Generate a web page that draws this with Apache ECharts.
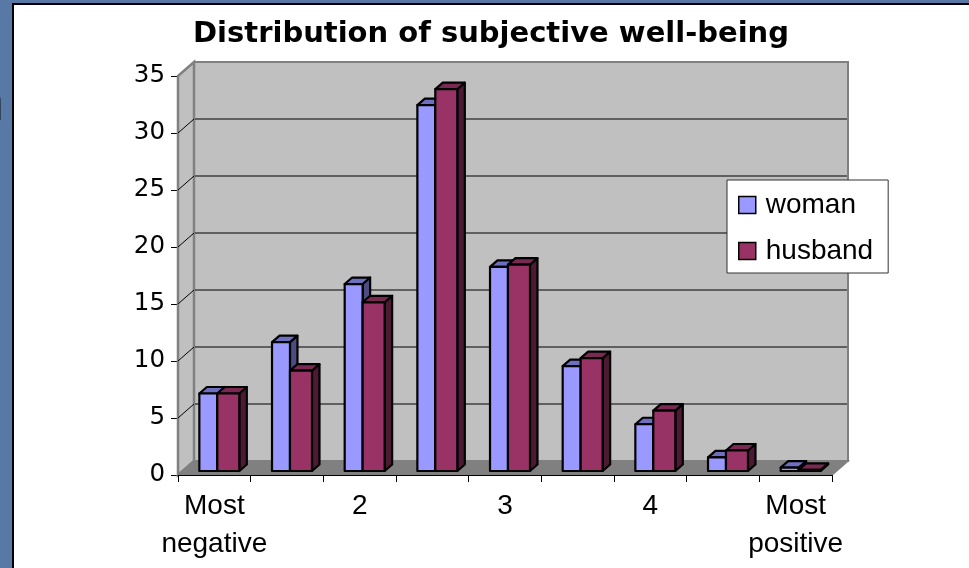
<!DOCTYPE html>
<html>
<head>
<meta charset="utf-8">
<script src="https://cdn.jsdelivr.net/npm/echarts@6/dist/echarts.min.js"></script>
<style>
html,body{margin:0;padding:0;background:#5878a6;overflow:hidden;}
#c{width:969px;height:568px;}
</style>
</head>
<body>
<div id="c"></div>
<script>
// ---- data ----
const categories = ['Most\nnegative', '1.5', '2', '2.5', '3', '3.5', '4', '4.5', 'Most\npositive'];
const seriesNames = ['woman', 'husband'];
const womanValues = [6.8, 11.3, 16.4, 32.1, 17.9, 9.2, 4.1, 1.2, 0.3];
const husbandValues = [6.8, 8.8, 14.8, 33.5, 18.1, 9.9, 5.3, 1.8, 0.1];
const yTicks = [0, 5, 10, 15, 20, 25, 30, 35];
const titleText = 'Distribution of subjective well-being';

// ---- style / geometry ----
const WALL_DX = 16, WALL_DY = -14;     // depth of the 3D box
const BAR_DX = 5, BAR_DY = -4;         // bar front-face offset into the box
const BAR_DEPTH_X = 7.5, BAR_DEPTH_Y = -6.5;
const barSlots = [[-0.275, -0.028], [-0.028, 0.275]];
const barColors = [
  { front: '#9999FF', top: '#6F6FC0', side: '#4C4C80' },
  { front: '#993366', top: '#7A2952', side: '#4D1A33' }
];

const yMin = yTicks[0], yMax = yTicks[yTicks.length - 1];

function wallsItem(params, api) {
  const bw = api.size([1, 0])[0];
  const p0 = api.coord([0, yMin]);
  const pN = api.coord([categories.length - 1, yMin]);
  const x0 = p0[0] - bw / 2, x1 = pN[0] + bw / 2;
  const y0 = p0[1];
  const yT = api.coord([0, yMax])[1];
  const dx = WALL_DX, dy = WALL_DY;
  const children = [];
  children.push({ type: 'polygon', shape: { points: [[x0 + dx, yT + dy], [x1 + dx, yT + dy], [x1 + dx, y0 + dy], [x0 + dx, y0 + dy]] },
    style: { fill: '#C0C0C0', stroke: '#808080', lineWidth: 2 } });
  children.push({ type: 'polygon', shape: { points: [[x0, yT], [x0 + dx, yT + dy], [x0 + dx, y0 + dy], [x0, y0]] },
    style: { fill: '#C0C0C0', stroke: '#808080', lineWidth: 2.5 } });
  children.push({ type: 'polygon', shape: { points: [[x0, y0], [x1, y0], [x1 + dx, y0 + dy], [x0 + dx, y0 + dy]] },
    style: { fill: '#808080', stroke: '#808080', lineWidth: 1.5 } });
  yTicks.forEach(function (t) {
    if (t === yMin || t === yMax) return;
    const y = api.coord([0, t])[1];
    children.push({ type: 'line', shape: { x1: x0 + dx + 1, y1: y + dy, x2: x1 + dx - 1, y2: y + dy },
      style: { stroke: '#000', lineWidth: 1 } });
    children.push({ type: 'line', shape: { x1: x0, y1: y, x2: x0 + dx, y2: y + dy },
      style: { stroke: '#000', lineWidth: 1 } });
  });
  return { type: 'group', children: children };
}

function makeBarItem(s) {
  return function (params, api) {
    const idx = api.value(0), v = api.value(1);
    const base = api.coord([idx, yMin]);
    const top = api.coord([idx, v]);
    const bw = api.size([1, 0])[0];
    const xl = base[0] + barSlots[s][0] * bw + BAR_DX;
    const xr = base[0] + barSlots[s][1] * bw + BAR_DX;
    const yb = base[1] + BAR_DY;
    const yt = top[1] + BAR_DY;
    const ddx = BAR_DEPTH_X, ddy = BAR_DEPTH_Y;
    const col = barColors[s];
    const ls = { stroke: '#000', lineWidth: 2.2, lineJoin: 'round' };
    return {
      type: 'group',
      children: [
        { type: 'polygon', shape: { points: [[xr, yt], [xr + ddx, yt + ddy], [xr + ddx, yb + ddy], [xr, yb]] },
          style: Object.assign({ fill: col.side }, ls) },
        { type: 'polygon', shape: { points: [[xl, yt], [xr, yt], [xr + ddx, yt + ddy], [xl + ddx, yt + ddy]] },
          style: Object.assign({ fill: col.top }, ls) },
        { type: 'polygon', shape: { points: [[xl, yt], [xr, yt], [xr, yb], [xl, yb]] },
          style: Object.assign({ fill: col.front }, ls) }
      ]
    };
  };
}

const chart = echarts.init(document.getElementById('c'), null, { renderer: 'canvas' });
const option = {
  animation: false,
  backgroundColor: '#5878a6',
  graphic: [
    { type: 'rect', z: -10, shape: { x: 13, y: 4, width: 980, height: 590 },
      style: { fill: '#FFFFFF', stroke: '#000', lineWidth: 2 } },
    { type: 'text', z: -9, style: { text: 'n', x: -27, y: 133, font: '56px "Liberation Sans"', fill: '#111', verticalAlign: 'bottom' } }
  ],
  title: {
    text: titleText,
    left: 486, top: 15, textAlign: 'center',
    textStyle: { fontFamily: 'DejaVu Sans', fontWeight: 'bold', fontSize: 29, color: '#000' }
  },
  legend: {
    orient: 'vertical', left: 727, top: 180,
    padding: [10, 15, 7, 11],
    backgroundColor: '#FFFFFF', borderColor: '#333', borderWidth: 1,
    itemWidth: 17, itemHeight: 17, itemGap: 16,
    selectedMode: false,
    textStyle: { fontFamily: 'Liberation Sans', fontSize: 28, color: '#000', lineHeight: 30, padding: [0, 0, 0, 5] },
    data: [
      { name: seriesNames[0], icon: 'rect', itemStyle: { color: barColors[0].front, borderColor: '#000', borderWidth: 1.5 } },
      { name: seriesNames[1], icon: 'rect', itemStyle: { color: barColors[1].front, borderColor: '#000', borderWidth: 1.5 } }
    ]
  },
  grid: { left: 178, right: 137, top: 76, bottom: 93 },
  xAxis: {
    type: 'category', data: categories, boundaryGap: true, z: 10,
    axisLine: { show: true, lineStyle: { color: '#000', width: 1 } },
    axisTick: { show: true, interval: 0, length: 7, lineStyle: { color: '#000', width: 1 } },
    axisLabel: { interval: 1, margin: 12, fontFamily: 'Liberation Sans', fontSize: 28, lineHeight: 38, color: '#000' },
    splitLine: { show: false }
  },
  yAxis: {
    type: 'value', min: yMin, max: yMax, interval: 5,
    axisLine: { show: false },
    axisTick: { show: true, length: 7, lineStyle: { color: '#000', width: 1 } },
    axisLabel: { margin: 13, fontFamily: 'DejaVu Sans', fontSize: 24.5, color: '#000' },
    splitLine: { show: false }
  },
  series: [
    { type: 'custom', name: '_walls', silent: true, z: 1, renderItem: wallsItem, data: [[0, 0]], legendHoverLink: false },
    { type: 'custom', name: seriesNames[0], z: 2, renderItem: makeBarItem(0),
      itemStyle: { color: barColors[0].front },
      data: womanValues.map(function (v, i) { return [i, v]; }) },
    { type: 'custom', name: seriesNames[1], z: 2, renderItem: makeBarItem(1),
      itemStyle: { color: barColors[1].front },
      data: husbandValues.map(function (v, i) { return [i, v]; }) }
  ]
};
chart.setOption(option);
</script>
</body>
</html>
